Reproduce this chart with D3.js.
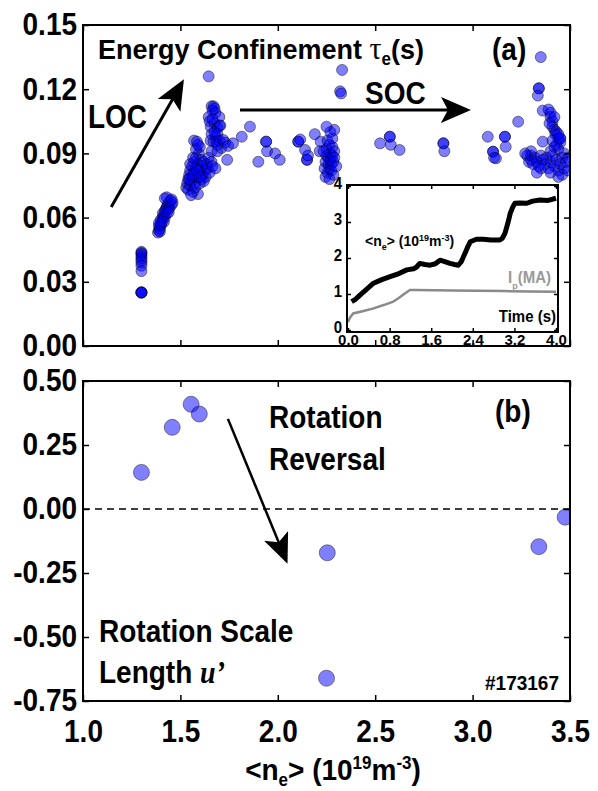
<!DOCTYPE html>
<html>
<head>
<meta charset="utf-8">
<script src="https://cdn.jsdelivr.net/npm/d3@7"></script>
<style>
  body { margin: 0; background: #fff; }
  svg { display: block; }
  text { font-family: "Liberation Sans", Arial, Helvetica, sans-serif; font-weight: bold; }
</style>
</head>
<body>
<div id="chart"></div>
<script>
// axis ticks
const neTicks = [1.0, 1.5, 2.0, 2.5, 3.0, 3.5];
const tauTicks = [0, 0.03, 0.06, 0.09, 0.12, 0.15];
const uTicks = [-0.75, -0.5, -0.25, 0, 0.25, 0.5];
const insetTimeTicks = [0, 0.8, 1.6, 2.4, 3.2, 4.0];
const insetValTicks = [0, 1, 2, 3, 4];

// (a) energy confinement time, points as [<ne>, tau_e]
const tauLowNe = [[1.30,0.025],[1.30,0.025],[1.30,0.025],[1.30,0.025],[1.30,0.044],[1.30,0.0435],
  [1.30,0.043],[1.30,0.042],[1.30,0.041],[1.30,0.040],[1.30,0.039],[1.30,0.0375],[1.30,0.035]];
const tauRampA = [[1.385,0.053],[1.39,0.054],[1.39,0.056],[1.395,0.055],[1.40,0.057],[1.40,0.059],
  [1.405,0.058],[1.41,0.060],[1.41,0.062],[1.415,0.061],[1.42,0.063],[1.42,0.060],[1.425,0.064],
  [1.43,0.062],[1.43,0.065],[1.435,0.066],[1.44,0.064],[1.44,0.067],[1.445,0.065],[1.45,0.068],
  [1.455,0.066],[1.46,0.067],[1.42,0.069],[1.43,0.0695],[1.40,0.0565],[1.415,0.058],[1.39,0.0575],
  [1.44,0.0625],[1.455,0.0685],[1.395,0.0535]];
const tauRampB = [[1.53,0.074],[1.535,0.076],[1.54,0.078],[1.54,0.073],[1.545,0.080],[1.55,0.075],
  [1.55,0.082],[1.555,0.077],[1.56,0.079],[1.56,0.084],[1.565,0.072],[1.57,0.081],[1.57,0.086],
  [1.575,0.076],[1.58,0.083],[1.58,0.088],[1.585,0.079],[1.59,0.085],[1.59,0.071],[1.595,0.090],
  [1.60,0.082],[1.60,0.093],[1.605,0.087],[1.61,0.078],[1.61,0.084],[1.615,0.080],[1.62,0.086],
  [1.625,0.082],[1.63,0.079],[1.635,0.085],[1.64,0.083],[1.645,0.088],[1.65,0.081],[1.66,0.086],
  [1.665,0.084],[1.55,0.085],[1.565,0.088],[1.58,0.092],[1.57,0.096],[1.585,0.0955],[1.59,0.094],
  [1.575,0.074],[1.60,0.076],[1.62,0.077],[1.555,0.0705],[1.68,0.083],[1.545,0.078],[1.565,0.080],
  [1.585,0.082],[1.60,0.079]];
const tauPeak = [[1.66,0.112],[1.67,0.112],[1.675,0.111],[1.665,0.110],[1.68,0.109],[1.645,0.107],
  [1.65,0.105],[1.70,0.107],[1.655,0.1025],[1.675,0.104],[1.69,0.102],[1.70,0.103],[1.705,0.103],
  [1.66,0.099],[1.68,0.098],[1.69,0.099],[1.655,0.096],[1.67,0.0955],[1.685,0.0955],[1.70,0.096],
  [1.71,0.0925],[1.66,0.091],[1.69,0.091],[1.645,0.126],[1.69,0.094],[1.675,0.100],[1.665,0.106]];
const tauMid = [[1.72,0.0963],[1.73,0.095],[1.745,0.0935],[1.74,0.087],[1.77,0.0947],[1.815,0.0978],
  [1.857,0.1025],[1.90,0.0861],[1.94,0.0955],[1.94,0.0955],[1.945,0.091],[1.986,0.090],[2.01,0.087]];
const tauShelfA = [[2.105,0.0955],[2.105,0.0955],[2.115,0.0965],[2.14,0.0916],[2.15,0.087],[2.15,0.087],
  [2.155,0.089],[2.19,0.099],[2.22,0.0955],[2.215,0.091],[2.24,0.083],[2.245,0.086],[2.25,0.089],
  [2.25,0.092],[2.255,0.081],[2.26,0.085],[2.26,0.088],[2.265,0.094],[2.265,0.083],[2.27,0.087],
  [2.27,0.090],[2.275,0.085],[2.275,0.082],[2.28,0.089],[2.28,0.093],[2.285,0.086],[2.285,0.080],
  [2.29,0.091],[2.29,0.088],[2.255,0.096],[2.28,0.097],[2.27,0.100],[2.29,0.101],[2.245,0.079],
  [2.265,0.078],[2.235,0.091],[2.30,0.084],[2.25,0.1025]];
const tauShelfB = [[2.33,0.129],[2.32,0.119],[2.325,0.118],[2.525,0.0947],[2.575,0.0978],[2.575,0.0978],
  [2.58,0.094],[2.625,0.0916],[2.85,0.0947],[2.85,0.0947],[2.855,0.091],[3.078,0.0978],[3.166,0.0978],
  [3.166,0.0978],[3.17,0.0931],[3.105,0.0908],[3.105,0.0908],[3.12,0.0877],[3.11,0.088],[3.234,0.1048]];
const tauHighNe = [[3.35,0.135],[3.34,0.1204],[3.34,0.1204],[3.335,0.117],[3.36,0.110],
  [3.39,0.1105],[3.40,0.109],[3.40,0.107],[3.41,0.105],[3.41,0.1025],[3.42,0.101],[3.425,0.099],
  [3.43,0.100],[3.44,0.097],[3.45,0.097],[3.45,0.095],[3.43,0.094],[3.44,0.092],[3.42,0.093],
  [3.41,0.096],[3.395,0.104],[3.42,0.107],[3.36,0.0955],[3.40,0.091],[3.45,0.097],[3.44,0.099],
  [3.28,0.089],[3.29,0.086],[3.30,0.089],[3.30,0.087],[3.31,0.085],[3.32,0.088],[3.33,0.086],
  [3.34,0.084],[3.35,0.089],[3.36,0.087],[3.37,0.085],[3.38,0.088],[3.39,0.083],[3.40,0.086],
  [3.41,0.089],[3.42,0.084],[3.43,0.087],[3.44,0.082],[3.45,0.085],[3.46,0.088],[3.47,0.083],
  [3.48,0.086],[3.47,0.090],[3.46,0.080],[3.44,0.079],[3.35,0.083],[3.30,0.091],[3.27,0.090],
  [3.33,0.081],[3.49,0.088],[3.40,0.081],[3.49,0.082]];

// (b) rotation scale length u'
const rotNe = [1.30, 1.458, 1.555, 1.597, 2.254, 2.25, 3.34, 3.475];
const rotU = [0.143, 0.319, 0.409, 0.371, -0.171, -0.661, -0.147, -0.032];

// inset traces vs time (s)
const neTime = [0.07,0.15,0.23,0.35,0.49,0.65,0.81,0.95,1.13,1.26,1.32,1.38,1.48,1.58,1.68,1.77,1.86,
  1.96,2.05,2.12,2.18,2.25,2.30,2.35,2.47,2.60,2.75,2.92,2.97,3.02,3.08,3.12,3.17,3.21,3.30,3.44,3.55,3.69,3.85,4.0];
const neTrace = [0.79,0.86,0.97,1.12,1.30,1.40,1.48,1.55,1.67,1.70,1.75,1.85,1.82,1.80,1.84,1.94,1.90,
  1.85,1.82,1.80,1.90,2.13,2.30,2.45,2.52,2.52,2.50,2.50,2.55,2.69,3.00,3.24,3.42,3.52,3.53,3.52,3.58,3.61,3.60,3.66];
const ipTime = [0.0, 0.04, 0.1, 0.3, 0.49, 0.7, 0.87, 0.97, 1.08, 1.19, 1.3, 2.0, 3.0, 4.0];
const ipTrace = [0.22, 0.35, 0.46, 0.53, 0.60, 0.70, 0.79, 0.88, 1.0, 1.11, 1.11, 1.10, 1.08, 1.06];

// annotation arrows in data units
const locArrow = [[1.145, 0.065], [1.508, 0.123]];
const socArrow = [[1.806, 0.1103], [2.971, 0.1103]];
const revArrow = [[1.744, 0.352], [2.042, -0.199]];

const W = 598, H = 791;
const svg = d3.select("#chart").append("svg").attr("width", W).attr("height", H);

const x = d3.scaleLinear().domain([1, 3.5]).range([83, 570]);
const yTop = d3.scaleLinear().domain([0, 0.15]).range([346, 25]);
const yBot = d3.scaleLinear().domain([-0.75, 0.5]).range([701, 381]);
const tx = d3.scaleLinear().domain([0, 4]).range([348, 556]);
const ty = d3.scaleLinear().domain([0, 4]).range([330, 186]);

const defs = svg.append("defs");
defs.append("clipPath").attr("id", "clipTop").append("rect")
  .attr("x", 83).attr("y", 25).attr("width", 487).attr("height", 321);
defs.append("clipPath").attr("id", "clipBot").append("rect")
  .attr("x", 83).attr("y", 381).attr("width", 487).attr("height", 320);
defs.append("marker").attr("id", "head")
  .attr("markerUnits", "userSpaceOnUse")
  .attr("viewBox", "0 0 30 26").attr("markerWidth", 30).attr("markerHeight", 26)
  .attr("refX", 26).attr("refY", 13).attr("orient", "auto")
  .append("path").attr("d", "M0,0 L30,13 L0,26 L7,13 Z").attr("fill", "#000");

// tall-ish bold text like the original figure
function label(x0, y0, size, stretch) {
  return svg.append("text")
    .attr("transform", `translate(${x0},${y0}) scale(1,${stretch})`)
    .style("font-size", size + "px");
}

function styleAxis(g, size, stretch) {
  g.select(".domain").remove();
  g.selectAll(".tick line").attr("stroke", "#000").attr("stroke-width", 1.5);
  g.selectAll("text")
    .attr("fill", "#000")
    .style("font-size", size + "px")
    .style("font-family", '"Liberation Sans", Arial, sans-serif')
    .style("font-weight", "bold")
    .attr("transform", `scale(1,${stretch})`);
  return g;
}

const fmt2 = d => d.toFixed(2);
const fmt1 = d => d.toFixed(1);

// ---------- panel (a) ----------
const topPts = [].concat(tauLowNe, tauRampA, tauRampB, tauPeak, tauMid, tauShelfA, tauShelfB, tauHighNe);

svg.append("g").attr("clip-path", "url(#clipTop)")
  .selectAll("circle").data(topPts).join("circle")
  .attr("cx", d => x(d[0])).attr("cy", d => yTop(d[1])).attr("r", 5.5)
  .attr("fill", "#0000ff").attr("fill-opacity", 0.5)
  .attr("stroke", "#000").attr("stroke-opacity", 0.45).attr("stroke-width", 1);

styleAxis(svg.append("g").attr("transform", "translate(83,0)")
  .call(d3.axisLeft(yTop).tickValues(tauTicks).tickFormat(fmt2).tickSizeInner(-6).tickSizeOuter(0).tickPadding(6)), 28, 1.1);
styleAxis(svg.append("g").attr("transform", "translate(570,0)")
  .call(d3.axisRight(yTop).tickValues(tauTicks).tickFormat("").tickSizeInner(-6).tickSizeOuter(0)), 28, 1);
styleAxis(svg.append("g").attr("transform", "translate(0,25)")
  .call(d3.axisTop(x).tickValues(neTicks).tickFormat("").tickSizeInner(-6).tickSizeOuter(0)), 28, 1);
styleAxis(svg.append("g").attr("transform", "translate(0,346)")
  .call(d3.axisBottom(x).tickValues(neTicks).tickFormat("").tickSizeInner(-6).tickSizeOuter(0)), 28, 1);

svg.append("rect").attr("x", 83).attr("y", 25).attr("width", 487).attr("height", 321)
  .attr("fill", "none").attr("stroke", "#000").attr("stroke-width", 2);

// title
const t1 = label(98, 59, 27, 1.05);
t1.append("tspan").text("Energy Confinement ");
t1.append("tspan").text("τ").style("font-family", '"Liberation Serif", "DejaVu Serif", serif').style("font-weight", "normal").style("font-size", "30px");
t1.append("tspan").text("e").attr("dy", 6).style("font-size", "17px");
t1.append("tspan").text("(s)").attr("dy", -6);

label(492, 60, 28, 1.1).text("(a)");
label(88, 128, 28, 1.2).text("LOC");
label(365, 104, 28, 1.15).text("SOC");

const line = d3.line();
svg.append("path")
  .attr("d", line(locArrow.map(d => [x(d[0]), yTop(d[1])])))
  .attr("stroke", "#000").attr("stroke-width", 3).attr("fill", "none").attr("marker-end", "url(#head)");
svg.append("path")
  .attr("d", line(socArrow.map(d => [x(d[0]), yTop(d[1])])))
  .attr("stroke", "#000").attr("stroke-width", 3).attr("fill", "none").attr("marker-end", "url(#head)");

// ---------- inset ----------
svg.append("rect").attr("x", 347).attr("y", 185).attr("width", 211).attr("height", 147)
  .attr("fill", "#fff").attr("stroke", "none");

svg.append("path")
  .attr("d", d3.line().x((d, i) => tx(ipTime[i])).y(d => ty(d))(ipTrace))
  .attr("fill", "none").attr("stroke", "#8a8a8a").attr("stroke-width", 2.5);
svg.append("path")
  .attr("d", d3.line().x((d, i) => tx(neTime[i])).y(d => ty(d))(neTrace))
  .attr("fill", "none").attr("stroke", "#000").attr("stroke-width", 5).attr("stroke-linejoin", "round");

// inset y labels sit a little high so the "0" clears the "0.0" below it
const insetLeft = styleAxis(svg.append("g").attr("transform", "translate(347,-3)")
  .call(d3.axisLeft(ty).tickValues(insetValTicks).tickFormat(d3.format("d")).tickSizeInner(-4).tickSizeOuter(0).tickPadding(5)), 15, 1.05);
insetLeft.selectAll(".tick line").attr("transform", "translate(0,3)");
styleAxis(svg.append("g").attr("transform", "translate(558,0)")
  .call(d3.axisRight(ty).tickValues(insetValTicks).tickFormat("").tickSizeInner(-4).tickSizeOuter(0)), 15, 1);
styleAxis(svg.append("g").attr("transform", "translate(0,332)")
  .call(d3.axisBottom(tx).tickValues(insetTimeTicks).tickFormat(fmt1).tickSizeInner(-4).tickSizeOuter(0).tickPadding(2)), 15, 1.0);
styleAxis(svg.append("g").attr("transform", "translate(0,185)")
  .call(d3.axisTop(tx).tickValues(insetTimeTicks).tickFormat("").tickSizeInner(-4).tickSizeOuter(0)), 15, 1);

svg.append("rect").attr("x", 347).attr("y", 185).attr("width", 211).attr("height", 147)
  .attr("fill", "none").attr("stroke", "#000").attr("stroke-width", 2);

const t2 = label(365, 246, 14, 1.1);
t2.append("tspan").text("<n");
t2.append("tspan").text("e").attr("dy", 4).style("font-size", "9px");
t2.append("tspan").text("> (10").attr("dy", -4);
t2.append("tspan").text("19").attr("dy", -5).style("font-size", "9px");
t2.append("tspan").text("m").attr("dy", 5);
t2.append("tspan").text("-3").attr("dy", -5).style("font-size", "9px");
t2.append("tspan").text(")").attr("dy", 5);

const t3 = label(508, 283, 15, 1.1).attr("fill", "#999");
t3.append("tspan").text("I");
t3.append("tspan").text("p").attr("dy", 5).style("font-size", "9px");
t3.append("tspan").text("(MA)").attr("dy", -5);

label(556, 322, 15, 1.1).attr("text-anchor", "end").text("Time (s)");

// ---------- panel (b) ----------
svg.append("line")
  .attr("x1", x(1)).attr("x2", x(3.5)).attr("y1", yBot(0)).attr("y2", yBot(0))
  .attr("stroke", "#000").attr("stroke-width", 1.5).attr("stroke-dasharray", "7,5");

svg.append("g").attr("clip-path", "url(#clipBot)")
  .selectAll("circle").data(rotU).join("circle")
  .attr("cx", (d, i) => x(rotNe[i])).attr("cy", d => yBot(d)).attr("r", 8)
  .attr("fill", "#0000ff").attr("fill-opacity", 0.5)
  .attr("stroke", "#222").attr("stroke-opacity", 0.5).attr("stroke-width", 1);

styleAxis(svg.append("g").attr("transform", "translate(83,0)")
  .call(d3.axisLeft(yBot).tickValues(uTicks).tickFormat(fmt2).tickSizeInner(-6).tickSizeOuter(0).tickPadding(6)), 28, 1.1);
styleAxis(svg.append("g").attr("transform", "translate(570,0)")
  .call(d3.axisRight(yBot).tickValues(uTicks).tickFormat("").tickSizeInner(-6).tickSizeOuter(0)), 28, 1);
styleAxis(svg.append("g").attr("transform", "translate(0,381)")
  .call(d3.axisTop(x).tickValues(neTicks).tickFormat("").tickSizeInner(-6).tickSizeOuter(0)), 28, 1);
styleAxis(svg.append("g").attr("transform", "translate(0,701)")
  .call(d3.axisBottom(x).tickValues(neTicks).tickFormat(fmt1).tickSizeInner(-6).tickSizeOuter(0).tickPadding(17)), 28, 1.1);

svg.append("rect").attr("x", 83).attr("y", 381).attr("width", 487).attr("height", 320)
  .attr("fill", "none").attr("stroke", "#000").attr("stroke-width", 2);

svg.append("path")
  .attr("d", line(revArrow.map(d => [x(d[0]), yBot(d[1])])))
  .attr("stroke", "#000").attr("stroke-width", 2.5).attr("fill", "none").attr("marker-end", "url(#head)");

label(269, 428, 28, 1.12).text("Rotation");
label(269, 470, 28, 1.12).text("Reversal");
label(495, 422, 28, 1.1).text("(b)");
label(99, 642, 28, 1.12).text("Rotation Scale");
const t4 = label(99, 683, 28, 1.12);
t4.append("tspan").text("Length ");
t4.append("tspan").text("u’").style("font-family", '"Liberation Serif", "DejaVu Serif", serif').style("font-style", "italic");
label(485, 690, 19, 1.1).text("#173167");

// x axis title
const t5 = label(333, 780, 28, 1.08).attr("text-anchor", "middle");
t5.append("tspan").text("<n");
t5.append("tspan").text("e").attr("dy", 6).style("font-size", "17px");
t5.append("tspan").text("> (10").attr("dy", -6);
t5.append("tspan").text("19").attr("dy", -10).style("font-size", "17px");
t5.append("tspan").text("m").attr("dy", 10);
t5.append("tspan").text("-3").attr("dy", -10).style("font-size", "17px");
t5.append("tspan").text(")").attr("dy", 10);
</script>
</body>
</html>
